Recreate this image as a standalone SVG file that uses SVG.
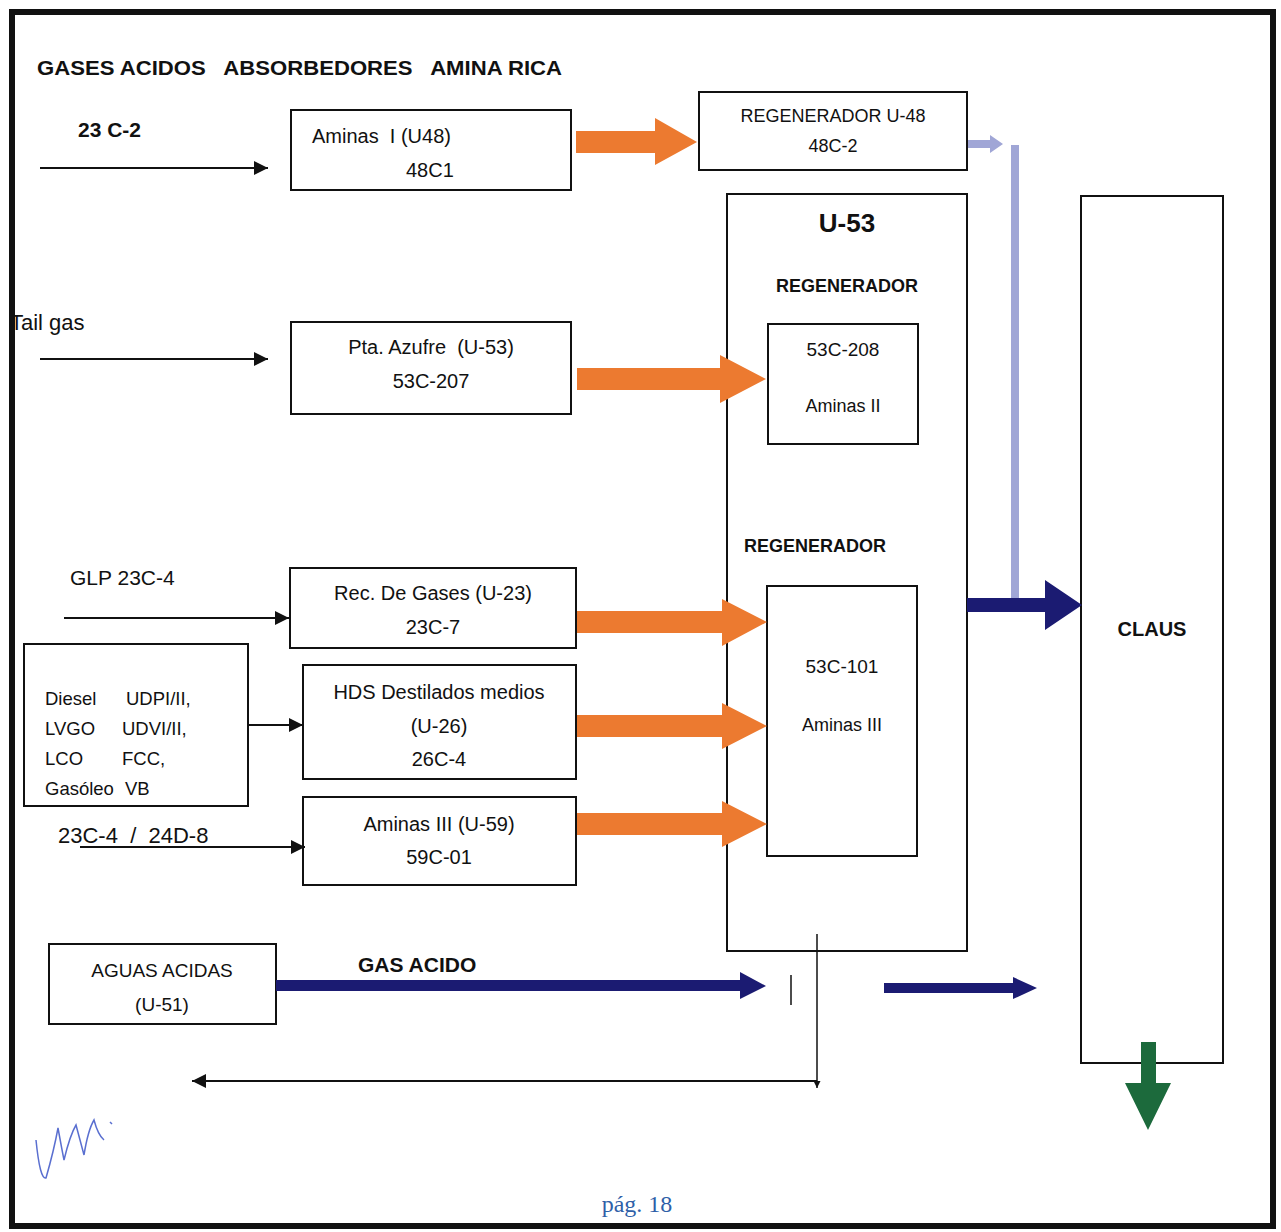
<svg xmlns="http://www.w3.org/2000/svg" width="1281" height="1232" viewBox="0 0 1281 1232">
<defs>
<style>
text{font-family:"Liberation Sans",Arial,sans-serif;fill:#111;white-space:pre}
text.pg{font-family:"Liberation Serif","Times New Roman",serif;fill:#2f5fa8}
.b{font-weight:bold}
.c{text-anchor:middle}
.box{fill:#fff;stroke:#111;stroke-width:2}
.ln{stroke:#111;stroke-width:2;fill:none}
.or{fill:#ec7a30}
.nv{fill:#1b1b72}
.lp{fill:#a0a6d6}
.gr{fill:#1c6a3c}
</style>
<marker id="ah" viewBox="0 0 10 10" refX="10" refY="5" markerWidth="7" markerHeight="7" markerUnits="userSpaceOnUse" orient="auto"><path d="M0,0 L10,5 L0,10 z" fill="#111"/></marker>
<marker id="ahb" viewBox="0 0 10 10" refX="10" refY="5" markerWidth="14" markerHeight="14" markerUnits="userSpaceOnUse" orient="auto"><path d="M0,0 L10,5 L0,10 z" fill="#111"/></marker>
</defs>
<rect x="0" y="0" width="1281" height="1232" fill="#fff"/>
<rect x="12" y="12" width="1261" height="1214" fill="none" stroke="#111" stroke-width="6"/>

<text class="b" x="37" y="75" font-size="21" textLength="525" lengthAdjust="spacingAndGlyphs" xml:space="preserve">GASES ACIDOS   ABSORBEDORES   AMINA RICA</text>

<g id="lbl-23c2"><text class="b" x="78" y="137" font-size="21">23 C-2</text></g>
<g id="lbl-tailgas"><text x="10" y="330" font-size="22">Tail gas</text></g>
<g id="lbl-glp"><text x="70" y="585" font-size="21">GLP 23C-4</text></g>
<g id="lbl-23c4"><text x="58" y="843" font-size="22" xml:space="preserve">23C-4  /  24D-8</text></g>

<g id="aminas1">
<rect class="box" x="291" y="110" width="280" height="80"/>
<text x="312" y="143" font-size="20" xml:space="preserve">Aminas  I (U48)</text>
<text x="406" y="177" font-size="20">48C1</text>
</g>
<g id="regen48">
<rect class="box" x="699" y="92" width="268" height="78"/>
<text class="c" x="833" y="122" font-size="18">REGENERADOR U-48</text>
<text class="c" x="833" y="152" font-size="18">48C-2</text>
</g>
<g id="u53">
<rect x="727" y="194" width="240" height="757" fill="none" stroke="#111" stroke-width="2"/>
<text class="b c" x="847" y="232" font-size="26">U-53</text>
<text class="b c" x="847" y="292" font-size="18">REGENERADOR</text>
<text class="b c" x="815" y="552" font-size="18">REGENERADOR</text>
</g>
<g id="c208">
<rect class="box" x="768" y="324" width="150" height="120"/>
<text class="c" x="843" y="356" font-size="19">53C-208</text>
<text class="c" x="843" y="412" font-size="18">Aminas II</text>
</g>
<g id="c101">
<rect class="box" x="767" y="586" width="150" height="270"/>
<text class="c" x="842" y="673" font-size="19">53C-101</text>
<text class="c" x="842" y="731" font-size="18">Aminas III</text>
</g>
<g id="claus">
<rect class="box" x="1081" y="196" width="142" height="867"/>
<text class="b c" x="1152" y="636" font-size="20">CLAUS</text>
</g>
<g id="azufre">
<rect class="box" x="291" y="322" width="280" height="92"/>
<text class="c" x="431" y="354" font-size="20" xml:space="preserve">Pta. Azufre  (U-53)</text>
<text class="c" x="431" y="388" font-size="20">53C-207</text>
</g>
<g id="recgases">
<rect class="box" x="290" y="568" width="286" height="80"/>
<text class="c" x="433" y="600" font-size="20">Rec. De Gases (U-23)</text>
<text class="c" x="433" y="634" font-size="20">23C-7</text>
</g>
<g id="feeds">
<rect class="box" x="24" y="644" width="224" height="162"/>
<text font-size="18.5" x="45" y="705">Diesel</text><text font-size="18.5" x="126" y="705">UDPI/II,</text>
<text font-size="18.5" x="45" y="735">LVGO</text><text font-size="18.5" x="122" y="735">UDVI/II,</text>
<text font-size="18.5" x="45" y="765">LCO</text><text font-size="18.5" x="122" y="765">FCC,</text>
<text font-size="18.5" x="45" y="795">Gasóleo</text><text font-size="18.5" x="125" y="795">VB</text>
</g>
<g id="hds">
<rect class="box" x="303" y="665" width="273" height="114"/>
<text class="c" x="439" y="699" font-size="20">HDS Destilados medios</text>
<text class="c" x="439" y="733" font-size="20">(U-26)</text>
<text class="c" x="439" y="766" font-size="20">26C-4</text>
</g>
<g id="aminas3">
<rect class="box" x="303" y="797" width="273" height="88"/>
<text class="c" x="439" y="831" font-size="20">Aminas III (U-59)</text>
<text class="c" x="439" y="864" font-size="20">59C-01</text>
</g>
<g id="aguas">
<rect class="box" x="49" y="944" width="227" height="80"/>
<text class="c" x="162" y="977" font-size="19">AGUAS ACIDAS</text>
<text class="c" x="162" y="1011" font-size="19">(U-51)</text>
</g>
<g id="lbl-gasacido"><text class="b" x="358" y="972" font-size="21">GAS ACIDO</text></g>

<g id="connectors">
<line class="ln" x1="40" y1="168" x2="268" y2="168" marker-end="url(#ahb)"/>
<line class="ln" x1="40" y1="359" x2="268" y2="359" marker-end="url(#ahb)"/>
<line class="ln" x1="64" y1="618" x2="289" y2="618" marker-end="url(#ahb)"/>
<line class="ln" x1="248" y1="725" x2="303" y2="725" marker-end="url(#ahb)"/>
<line class="ln" x1="80" y1="847" x2="305" y2="847" marker-end="url(#ahb)"/>
<path class="or" d="M576,131 L655,131 L655,118 L697,142 L655,165 L655,153 L576,153 z"/>
<path class="or" d="M577,368 L720,368 L720,355 L766,379 L720,403 L720,390 L577,390 z"/>
<path class="or" d="M577,611 L722,611 L722,599 L767,622 L722,646 L722,633 L577,633 z"/>
<path class="or" d="M577,715 L722,715 L722,703 L767,726 L722,749 L722,737 L577,737 z"/>
<path class="or" d="M577,813 L722,813 L722,801 L767,824 L722,847 L722,835 L577,835 z"/>
<path class="lp" d="M968,140 L990,140 L990,135 L1003,144 L990,153 L990,148 L968,148 z"/>
<path class="lp" d="M1011,145 L1019,145 L1019,598 L1024,598 L1015,612 L1006,598 L1011,598 z"/>
<path class="nv" d="M967,598 L1045,598 L1045,580 L1082,605 L1045,630 L1045,612 L967,612 z"/>
<path class="nv" d="M276,980 L740,980 L740,972 L766,986 L740,999 L740,991 L276,991 z"/>
<path class="nv" d="M884,983 L1013,983 L1013,977 L1037,988 L1013,999 L1013,993 L884,993 z"/>
<path class="gr" d="M1141,1042 L1156,1042 L1156,1083 L1171,1083 L1148,1130 L1125,1083 L1141,1083 z"/>
<line x1="791" y1="975" x2="791" y2="1005" stroke="#111" stroke-width="1.5"/>
<line x1="817" y1="934" x2="817" y2="1088" stroke="#111" stroke-width="1.5" marker-end="url(#ah)"/>
<line x1="817" y1="1081" x2="192" y2="1081" stroke="#111" stroke-width="2" marker-end="url(#ahb)"/>
</g>

<text class="pg" x="637" y="1212" text-anchor="middle" font-size="24">pág. 18</text>
<path d="M36,1140 Q40,1180 46,1178 Q54,1150 58,1128 Q62,1150 64,1160 Q70,1135 76,1125 Q80,1140 84,1155 Q88,1130 94,1120 Q98,1135 104,1140 M110,1122 L112,1124" fill="none" stroke="#5a6fd0" stroke-width="1.5"/>
</svg>
